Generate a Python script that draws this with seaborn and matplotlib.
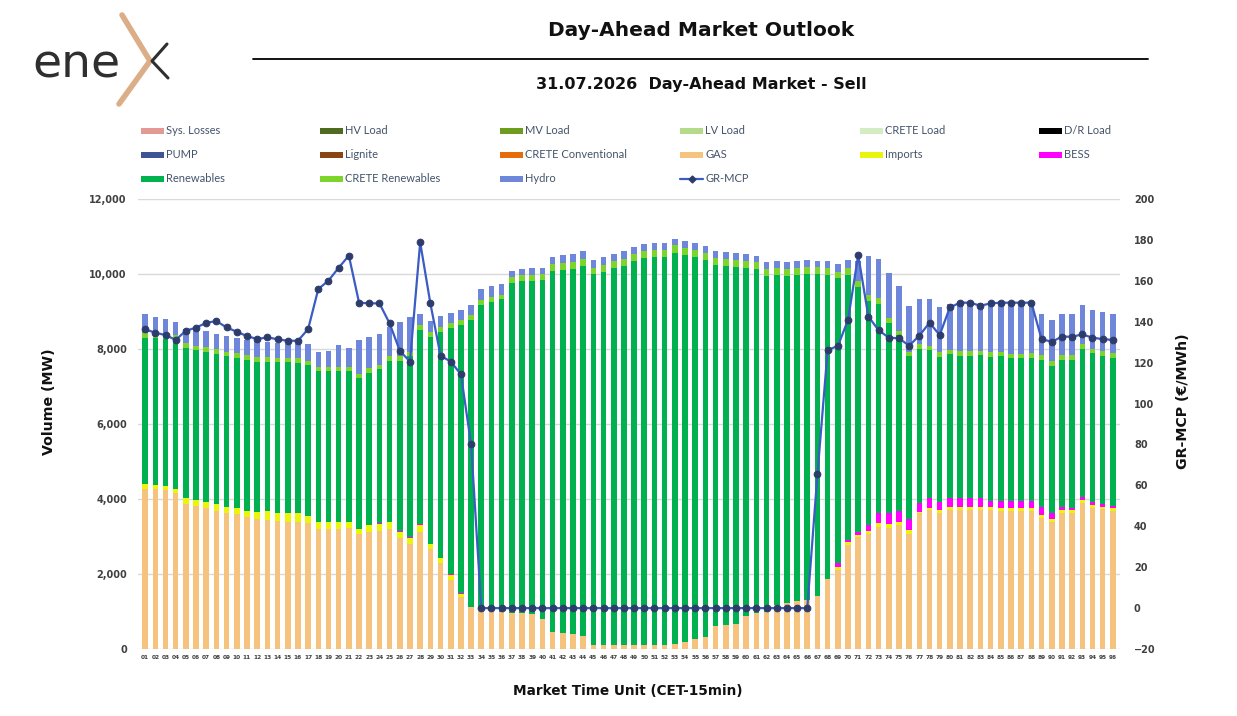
import numpy as np
import pandas as pd
import matplotlib
matplotlib.use("Agg")
import matplotlib.pyplot as plt
import matplotlib.ticker as mticker
import seaborn as sns
from matplotlib.lines import Line2D
from matplotlib.patches import Rectangle

# ----------------------------------------------------------
# DATA (MW per layer, MCP in EUR/MWh)
# ----------------------------------------------------------
mtu = [f"{i:02d}" for i in range(1, 97)]

gas = [4270, 4260, 4240, 4150, 3880, 3820, 3770, 3680, 3640, 3590,
       3530, 3480, 3440, 3410, 3400, 3400, 3370, 3190, 3190, 3190,
       3220, 3060, 3130, 3160, 3190, 2950, 2790, 3130, 2660, 2300,
       1840, 1380, 1110, 1080, 1020, 1000, 950, 950, 930, 790,
       460, 440, 390, 350, 110, 110, 110, 110, 110, 110,
       110, 110, 130, 200, 260, 330, 610, 640, 680, 880,
       970, 1000, 1170, 1220, 1280, 1320, 1420, 1870, 2110, 2770,
       3000, 3080, 3260, 3240, 3320, 3080, 3620, 3710, 3640, 3710,
       3720, 3720, 3720, 3720, 3680, 3680, 3680, 3680, 3500, 3380,
       3640, 3640, 3900, 3750, 3730, 3690]

imports = [120, 110, 120, 120, 160, 150, 160, 180, 160, 160,
           160, 180, 240, 230, 220, 220, 180, 190, 190, 190,
           160, 140, 180, 170, 190, 180, 180, 190, 130, 120,
           130, 90, 0, 0, 0, 0, 0, 0, 0, 0,
           0, 0, 0, 0, 0, 0, 0, 0, 0, 0,
           0, 0, 0, 0, 0, 0, 0, 0, 0, 0,
           0, 0, 0, 0, 0, 0, 0, 0, 90, 90,
           40, 70, 90, 90, 70, 90, 40, 60, 70, 90,
           80, 80, 80, 70, 80, 80, 80, 80, 70, 80,
           70, 70, 70, 90, 60, 60]

bess = [0, 0, 0, 0, 0, 0, 0, 0, 0, 0,
        0, 0, 0, 0, 0, 0, 0, 0, 0, 0,
        0, 0, 0, 20, 20, 20, 20, 20, 20, 20,
        20, 20, 0, 0, 0, 0, 0, 0, 0, 0,
        0, 0, 0, 0, 0, 0, 0, 0, 0, 0,
        0, 0, 0, 0, 0, 0, 0, 0, 0, 0,
        0, 0, 0, 0, 0, 0, 0, 0, 90, 60,
        90, 150, 290, 290, 290, 310, 240, 270, 220, 220,
        220, 230, 230, 170, 200, 180, 180, 180, 220, 160,
        70, 40, 90, 90, 70, 60]

renewables = [3910, 3910, 3910, 3970, 3980, 3990, 3980, 4000, 4000, 4000,
              4020, 4000, 3980, 4000, 4020, 4000, 4010, 4020, 4020, 4020,
              4020, 4020, 4060, 4110, 4290, 4530, 4810, 5170, 5520, 6020,
              6560, 7150, 7660, 8090, 8240, 8320, 8800, 8850, 8890, 9050,
              9620, 9670, 9740, 9860, 9890, 9950, 10060, 10100, 10240, 10310,
              10330, 10330, 10440, 10310, 10180, 10040, 9630, 9570, 9500, 9270,
              9150, 8950, 8800, 8730, 8690, 8670, 8570, 8100, 7590, 7050,
              6530, 5980, 5550, 5060, 4680, 4320, 4090, 3920, 3850, 3840,
              3800, 3790, 3800, 3830, 3840, 3810, 3810, 3830, 3920, 3930,
              3930, 3960, 3940, 3950, 3960, 3960]

crete_ren = [120, 120, 120, 120, 130, 130, 130, 130, 130, 130,
             130, 130, 130, 130, 130, 130, 130, 120, 120, 120,
             120, 120, 120, 120, 130, 130, 130, 130, 130, 130,
             130, 130, 130, 130, 130, 130, 160, 160, 160, 160,
             180, 180, 180, 180, 170, 170, 170, 190, 180, 180,
             200, 200, 190, 190, 190, 190, 190, 190, 190, 190,
             190, 190, 190, 190, 190, 190, 190, 190, 180, 180,
             140, 160, 160, 150, 120, 130, 130, 130, 150, 120,
             120, 120, 120, 120, 120, 120, 120, 120, 120, 120,
             120, 120, 120, 120, 120, 120]

hydro = [500, 450, 410, 370, 380, 430, 430, 420, 410, 410,
         410, 420, 390, 390, 370, 380, 430, 410, 430, 590,
         500, 900, 820, 820, 770, 910, 920, 280, 280, 300,
         280, 280, 280, 300, 280, 280, 170, 160, 170, 170,
         200, 220, 220, 220, 200, 210, 180, 200, 180, 190,
         180, 180, 170, 180, 190, 190, 180, 180, 180, 180,
         170, 190, 190, 170, 190, 190, 170, 190, 210, 220,
         550, 1050, 1050, 1190, 1210, 1220, 1210, 1230, 1200, 1220,
         1290, 1290, 1280, 1310, 1360, 1360, 1360, 1340, 1100, 1090,
         1100, 1100, 1040, 1040, 1050, 1040]

gr_mcp = [136.3, 134.6, 133.5, 131.1, 135.6, 137.1, 139.5, 140.3, 137.2, 135.1,
          133.0, 131.5, 132.4, 131.4, 130.7, 130.7, 136.4, 156.0, 160.1, 166.4,
          172.3, 149.3, 149.0, 149.0, 139.2, 125.8, 120.5, 178.8, 149.0, 123.4,
          120.5, 114.3, 80.0, 0, 0, 0, 0, 0, 0, 0,
          0, 0, 0, 0, 0, 0, 0, 0, 0, 0,
          0, 0, 0, 0, 0, 0, 0, 0, 0, 0,
          0, 0, 0, 0, 0, 0, 65.5, 126.2, 128.1, 140.8,
          172.6, 142.5, 135.9, 132.2, 131.9, 128.3, 133.2, 139.5, 133.5, 147.0,
          149.3, 149.3, 147.8, 149.0, 149.3, 149.3, 149.3, 149.3, 131.5, 130.2,
          132.7, 132.7, 133.8, 132.2, 131.5, 131.1]

# legend entries (row-major, as in the report)
legend_items = [
    ("Sys. Losses", "#e39a94"), ("HV Load", "#4e6b1f"), ("MV Load", "#6e9c1e"),
    ("LV Load", "#b5db8a"), ("CRETE Load", "#d3ecc3"), ("D/R Load", "#000000"),
    ("PUMP", "#3f5496"), ("Lignite", "#8b4512"), ("CRETE Conventional", "#e46c0a"),
    ("GAS", "#f6c37f"), ("Imports", "#e9f50a"), ("BESS", "#ff00ff"),
    ("Renewables", "#00b14f"), ("CRETE Renewables", "#7dd42a"), ("Hydro", "#6f87da"),
    ("GR-MCP", None),
]
col = dict((k, v) for k, v in legend_items if v)
line_col = "#3a5cc4"
marker_col = "#2d3c6b"

# ----------------------------------------------------------
# FIGURE
# ----------------------------------------------------------
W, H = 1237, 716
sns.set_style("white")
plt.rcParams["font.family"] = ["DejaVu Sans"]

fig = plt.figure(figsize=(W / 100, H / 100), dpi=100)
ax = fig.add_axes([138 / W, 1 - 649 / H, (1120 - 138) / W, (649 - 199) / H])

# stacked bars: draw cumulative tops, tallest first
layers = [("GAS", gas), ("Imports", imports), ("BESS", bess),
          ("Renewables", renewables), ("CRETE Renewables", crete_ren), ("Hydro", hydro)]
cum = np.cumsum(np.array([v for _, v in layers], dtype=float), axis=0)
for k in range(len(layers) - 1, -1, -1):
    name = layers[k][0]
    df = pd.DataFrame({"MTU": mtu, "MW": cum[k]})
    sns.barplot(data=df, x="MTU", y="MW", order=mtu, color=col[name],
                saturation=1, width=0.55, linewidth=0, errorbar=None, ax=ax)

ax.set_ylim(0, 12000)
ax.set_xlim(-0.7, 95.7)
ax.set_yticks(range(0, 12001, 2000))
ax.yaxis.set_major_formatter(mticker.StrMethodFormatter("{x:,.0f}"))
ax.yaxis.grid(True, color="#d9d9d9", lw=1)
ax.set_axisbelow(True)
ax.set_xlabel("")
ax.set_ylabel("")
ax.tick_params(axis="y", length=0, pad=8, labelsize=7, labelcolor="#404040")
ax.tick_params(axis="x", length=0, pad=4, labelsize=4.2, labelcolor="#404040")
for t in ax.get_yticklabels() + ax.get_xticklabels():
    t.set_fontweight("bold")
for s in ax.spines.values():
    s.set_visible(False)

# price line on secondary axis
ax2 = ax.twinx()
sns.lineplot(x=np.arange(96), y=gr_mcp, ax=ax2, color=line_col, lw=1.6,
             marker="o", markersize=4.8, markerfacecolor=marker_col,
             markeredgecolor=marker_col)
ax2.set_ylim(-20, 200)
ax2.set_yticks(range(-20, 201, 20))
ax2.tick_params(axis="y", length=0, pad=10, labelsize=7, labelcolor="#404040")
for t in ax2.get_yticklabels():
    t.set_fontweight("bold")
for s in ax2.spines.values():
    s.set_visible(False)

# ----------------------------------------------------------
# TEXTS
# ----------------------------------------------------------
def fx(x):
    return x / W


def fy(y):
    return 1 - y / H


fig.text(fx(701), fy(31), "Day-Ahead Market Outlook", ha="center", va="center",
         fontsize=14.5, fontweight="bold", color="#111111")
fig.add_artist(Line2D([fx(253), fx(1148)], [fy(59), fy(59)], color="black", lw=1.3))
fig.text(fx(701), fy(85), "31.07.2026  Day-Ahead Market - Sell", ha="center", va="center",
         fontsize=11.5, fontweight="bold", color="#111111")

fig.text(fx(49), fy(402), "Volume (MW)", rotation=90, ha="center", va="center",
         fontsize=10.2, fontweight="bold", color="#111111")
fig.text(fx(1183), fy(401), "GR-MCP (€/MWh)", rotation=90, ha="center", va="center",
         fontsize=10.2, fontweight="bold", color="#111111")
fig.text(fx(628), fy(691), "Market Time Unit (CET-15min)", ha="center", va="center",
         fontsize=9.8, fontweight="bold", color="#111111")

# logo
fig.text(fx(32), fy(77), "ene", ha="left", va="baseline", fontsize=34,
         fontweight="normal", color="#2f2f2f")
fig.add_artist(Line2D([fx(122), fx(150), fx(119)], [fy(15), fy(61), fy(104)],
                      color="#dcae88", lw=4, solid_joinstyle="miter"))
fig.add_artist(Line2D([fx(167), fx(152), fx(168)], [fy(44), fy(61), fy(78)],
                      color="#2f2f2f", lw=2.2))

# legend (manual grid, 6 columns x 3 rows)
col_x = [141, 320, 500, 680, 860, 1039]
row_y = [131, 155, 179]
for i, (label, c) in enumerate(legend_items):
    x0 = col_x[i % 6]
    y0 = row_y[i // 6]
    if c is None:
        fig.add_artist(Line2D([fx(x0), fx(x0 + 23)], [fy(y0), fy(y0)], color=line_col, lw=1.6))
        fig.add_artist(Line2D([fx(x0 + 11.5)], [fy(y0)], marker="D", markersize=3.5,
                              color=marker_col, lw=0))
    else:
        fig.add_artist(Rectangle((fx(x0), fy(y0 + 3)), 23 / W, 6 / H,
                                 transform=fig.transFigure, color=c, lw=0))
    fig.text(fx(x0 + 25), fy(y0), label, ha="left", va="center",
             fontsize=8, color="#44546a", family=["Lato", "DejaVu Sans"])

fig.savefig("out.png", dpi=100)
